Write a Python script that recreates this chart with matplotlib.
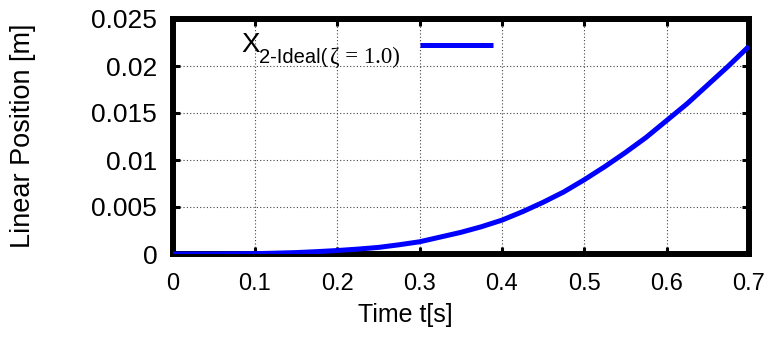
import matplotlib
matplotlib.use("Agg")
import matplotlib.pyplot as plt

# Time samples [s] and ideal linear position of mass 2 [m] (zeta = 1.0)
time_s = [0.0, 0.05, 0.10, 0.125, 0.15, 0.175, 0.20, 0.225, 0.25, 0.275, 0.30, 0.325,
          0.35, 0.375, 0.40, 0.425, 0.45, 0.475, 0.50, 0.525, 0.55, 0.575, 0.60,
          0.625, 0.65, 0.675, 0.70]
x2_ideal = [0.0, 0.000005, 0.00004, 0.00009, 0.00015, 0.00025, 0.00037, 0.00052,
            0.0007, 0.00098, 0.0013, 0.0018, 0.0023, 0.0029, 0.0036, 0.0045, 0.0055,
            0.0066, 0.0079, 0.0093, 0.0108, 0.0124, 0.0142, 0.0160, 0.0180, 0.0200,
            0.0221]

x_ticks = [0.0, 0.1, 0.2, 0.3, 0.4, 0.5, 0.6, 0.7]
x_tick_labels = ["0", "0.1", "0.2", "0.3", "0.4", "0.5", "0.6", "0.7"]
y_ticks = [0.0, 0.005, 0.010, 0.015, 0.020, 0.025]
y_tick_labels = ["0", "0.005", "0.01", "0.015", "0.02", "0.025"]

plt.rcParams["font.family"] = ["Liberation Sans", "DejaVu Sans"]

W, H = 775, 341
fig = plt.figure(figsize=(W / 100, H / 100), dpi=100)

left, right, top, bottom = 172.5, 749, 19, 254
ax = fig.add_axes([left / W, 1 - bottom / H, (right - left) / W, (bottom - top) / H])

ax.plot(time_s, x2_ideal, color="#0000ff", lw=3.6, solid_capstyle="butt",
        solid_joinstyle="round", zorder=3)

ax.set_xlim(0, 0.7)
ax.set_ylim(0, 0.025)
ax.set_xticks(x_ticks)
ax.set_xticklabels(x_tick_labels, fontsize=17)
ax.set_yticks(y_ticks)
ax.set_yticklabels(y_tick_labels, fontsize=19)

ax.tick_params(axis="both", direction="in", length=5, width=2.2, color="black",
               top=True, right=True)
ax.tick_params(axis="x", pad=14)
ax.tick_params(axis="y", pad=11)

for s in ax.spines.values():
    s.set_linewidth(4.3)
    s.set_color("black")

ax.grid(True, color="#444444", linestyle=(0, (1, 2)), linewidth=0.8, zorder=1)
ax.set_axisbelow(True)

ax.set_xlabel("Time t[s]", fontsize=18)
ax.xaxis.set_label_coords((405 - left) / (right - left), -(303 - bottom) / (bottom - top))
ax.xaxis.label.set_va("top")

ax.set_ylabel("Linear Position [m]", fontsize=19.5)
ax.yaxis.set_label_coords((36 - left) / (right - left), (bottom - 135.5) / (bottom - top))


def fx(px):
    return px / W


def fy(py):
    return 1 - py / H


# Legend entry: X with a mixed-font subscript, followed by the line key
fig.text(fx(241), fy(52), "X", fontsize=20, va="baseline", ha="left")
fig.text(fx(259), fy(63), "2-Ideal(", fontsize=14.5, va="baseline", ha="left")
fig.text(fx(330), fy(63), "ζ = 1.0)", fontsize=16.5, va="baseline", ha="left",
         family=["Liberation Serif", "DejaVu Serif"])
key_y = fy(45)
fig.add_artist(plt.Line2D([fx(420), fx(493)], [key_y, key_y], color="#0000ff",
                          lw=3.6, solid_capstyle="butt", transform=fig.transFigure))

fig.savefig("out.png", dpi=100)
